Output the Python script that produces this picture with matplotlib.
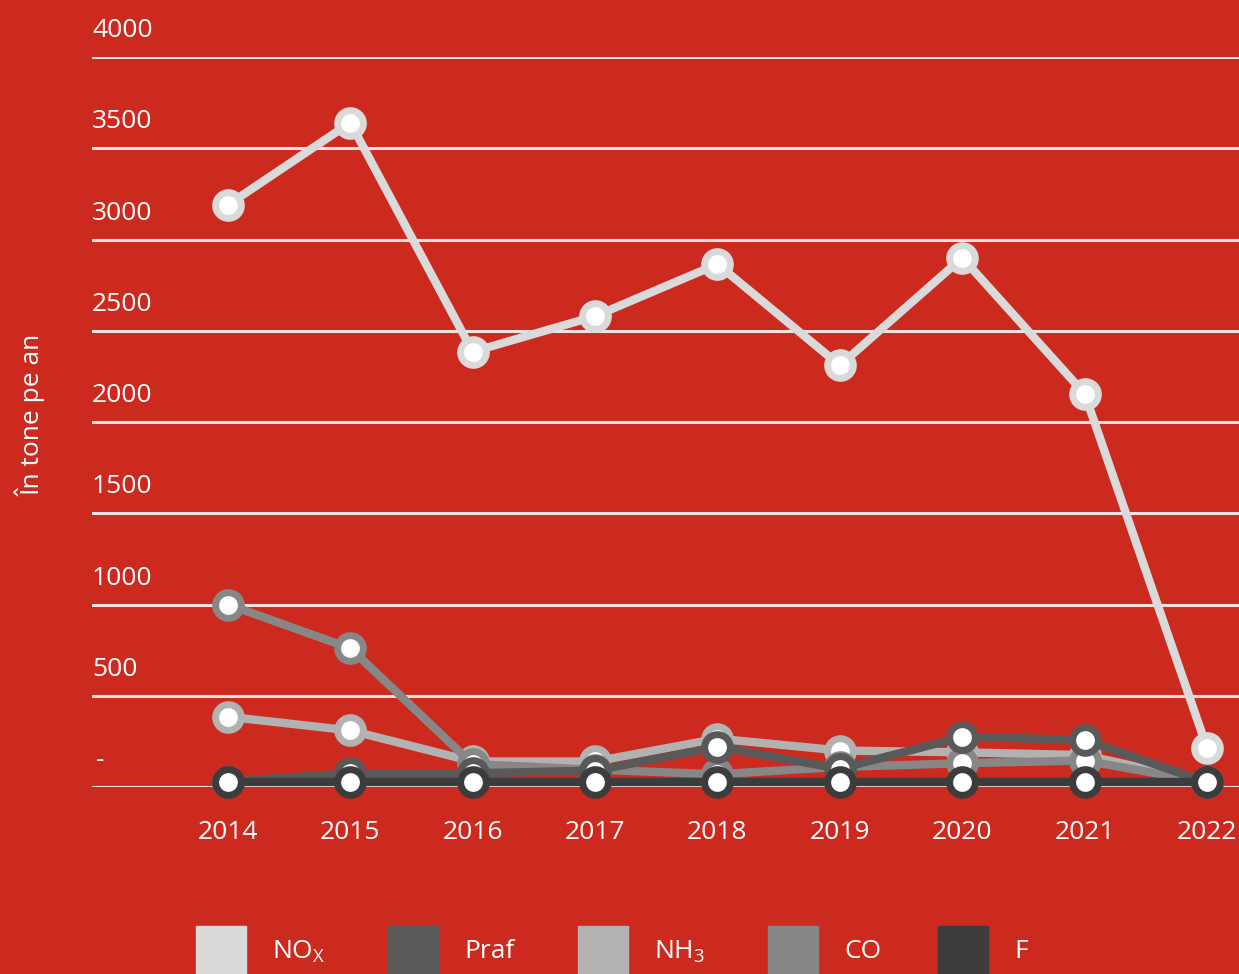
import numpy as np
import matplotlib
matplotlib.use("Agg")
from matplotlib import pyplot as plt

# date (tone pe an)
ani = [2014, 2015, 2016, 2017, 2018, 2019, 2020, 2021, 2022]
nox = [3190, 3640, 2385, 2580, 2865, 2310, 2900, 2155, 215]
praf = [30, 75, 75, 90, 220, 100, 275, 258, 25]
nh3 = [385, 310, 140, 140, 265, 200, 190, 175, 25]
co = [1000, 760, 125, 95, 70, 110, 130, 145, 25]
f = [25, 25, 25, 25, 25, 25, 25, 25, 25]

y_ticks = [0, 500, 1000, 1500, 2000, 2500, 3000, 3500, 4000]
y_labels = ["-", "500", "1000", "1500", "2000", "2500", "3000", "3500", "4000"]

rosu = "#cc2a1e"
culori = {"NOx": "#dadada", "Praf": "#595959", "NH3": "#b2b2b2",
          "CO": "#878787", "F": "#3c3c3c"}

plt.rcParams["font.family"] = ["Open Sans", "DejaVu Sans"]
plt.rcParams["mathtext.fontset"] = "custom"
plt.rcParams["mathtext.rm"] = "Open Sans"

W, H = 1239, 974
fig = plt.figure(figsize=(W / 100, H / 100), dpi=100, facecolor=rosu)
ax = fig.add_axes([92 / W, (H - 787) / H, (W - 92) / W, 730 / H])
ax.set_facecolor(rosu)
ax.set_ylim(0, 4000)
ax.set_xlim(2014 - 136 / 122.4, 2022 + 32 / 122.4)

for v, lab in zip(y_ticks, y_labels):
    ax.axhline(v, color="#f2e2df", lw=2.2, zorder=1)
    ax.annotate(lab, xy=(0, v), xycoords=ax.get_yaxis_transform(),
                xytext=(0 if v else 3, 19), textcoords="offset points",
                ha="left", va="center", color="white", fontsize=19)

serii = [("NOx", nox, 2), ("NH3", nh3, 3), ("CO", co, 4), ("Praf", praf, 5), ("F", f, 6)]
for nume, val, z in serii:
    ax.plot(ani, val, color=culori[nume], lw=6, zorder=z, clip_on=False,
            marker="o", ms=18.5, mfc="white", mec=culori[nume], mew=5)

ax.set_xticks(ani)
ax.set_xticklabels([str(a) for a in ani])
ax.set_yticks([])
ax.tick_params(axis="x", length=0, pad=24, labelsize=19, labelcolor="white")
for s in ax.spines.values():
    s.set_visible(False)

fig.text(30 / W, 1 - 415 / H, "În tone pe an", rotation=90, ha="center", va="center",
         color="white", fontsize=19)

# legenda
leg_x = [196, 388, 578, 768, 938]
leg_txt = [r"NO$_\mathrm{X}$", "Praf", r"NH$_\mathrm{3}$", "CO", "F"]
leg_nume = ["NOx", "Praf", "NH3", "CO", "F"]
for x0, t, n in zip(leg_x, leg_txt, leg_nume):
    fig.patches.append(plt.Rectangle((x0 / W, 0), 50 / W, 48 / H, transform=fig.transFigure,
                                     color=culori[n], figure=fig))
    fig.text((x0 + 76) / W, 1 - 952 / H, t, ha="left", va="center", color="white", fontsize=19)

fig.savefig("out.png", dpi=100, facecolor=rosu)
